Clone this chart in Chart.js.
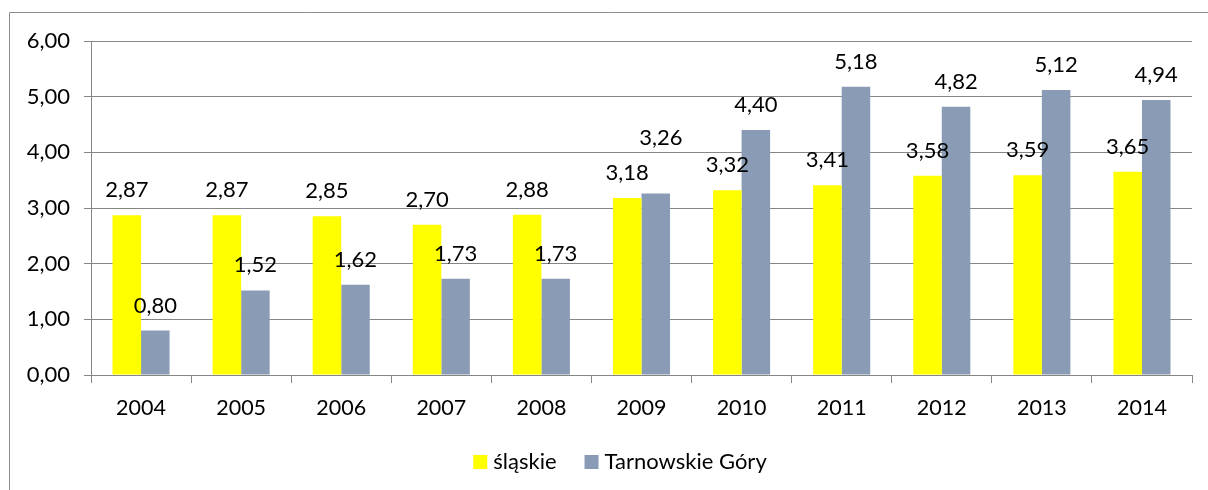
<!DOCTYPE html>
<html>
<head>
<meta charset="utf-8">
<script src="https://cdn.jsdelivr.net/npm/chart.js@4/dist/chart.umd.min.js"></script>
<style>
  html, body { margin: 0; padding: 0; background: #fff; }
  #wrap { width: 1208px; height: 490px; position: relative; }
</style>
</head>
<body>
<div id="wrap"><canvas id="chart" width="1208" height="490"></canvas></div>
<script>
const years = ['2004', '2005', '2006', '2007', '2008', '2009', '2010', '2011', '2012', '2013', '2014'];
const slaskie = [2.87, 2.87, 2.85, 2.70, 2.88, 3.18, 3.32, 3.41, 3.58, 3.59, 3.65];
const tarnowskie = [0.80, 1.52, 1.62, 1.73, 1.73, 3.26, 4.40, 5.18, 4.82, 5.12, 4.94];
const yTicks = [0, 1, 2, 3, 4, 5, 6];

const fmt = v => v.toFixed(2).replace('.', ',');
const gridCol = '#868686';
const font = 'Lato, "Open Sans", sans-serif';

// frame around the chart (only left/top edge visible in the picture)
const framePlugin = {
  id: 'frame',
  beforeDraw(chart) {
    const c = chart.ctx;
    c.save();
    c.strokeStyle = '#8c8c8c';
    c.lineWidth = 1;
    c.beginPath();
    c.moveTo(9.5, 500);
    c.lineTo(9.5, 12.5);
    c.lineTo(1220, 12.5);
    c.stroke();
    c.restore();
  }
};

// value labels above the bars
// the 2009 Tarnowskie label was moved up by hand in the original to avoid 3,18
const nudge = { '1-5': [5, -31] };
const labelPlugin = {
  id: 'valueLabels',
  afterDatasetsDraw(chart) {
    const c = chart.ctx;
    c.save();
    c.font = '22px ' + font;
    c.fillStyle = '#000';
    c.textAlign = 'center';
    c.textBaseline = 'middle';
    chart.data.datasets.forEach((ds, i) => {
      chart.getDatasetMeta(i).data.forEach((bar, j) => {
        const n = nudge[i + '-' + j] || [0, 0];
        c.fillText(fmt(ds.data[j]), bar.x + n[0], bar.y - 25 + n[1]);
      });
    });
    c.restore();
  }
};

// legend drawn by hand so it can sit where the original has it
const legendPlugin = {
  id: 'customLegend',
  afterDraw(chart) {
    const c = chart.ctx;
    c.save();
    c.font = '22px ' + font;
    c.textBaseline = 'middle';
    c.textAlign = 'left';
    const box = 14, gap = 6, itemGap = 28, cy = 462;
    const items = chart.data.datasets.map(ds => ({ text: ds.label, color: ds.backgroundColor, w: c.measureText(ds.label).width }));
    const total = items.reduce((s, it) => s + box + gap + it.w, 0) + itemGap * (items.length - 1);
    let x = 620 - total / 2;
    items.forEach(it => {
      c.fillStyle = it.color;
      c.fillRect(x, cy - box / 2, box, box);
      c.fillStyle = '#000';
      c.fillText(it.text, x + box + gap, cy);
      x += box + gap + it.w + itemGap;
    });
    c.restore();
  }
};

new Chart(document.getElementById('chart'), {
  type: 'bar',
  data: {
    labels: years,
    datasets: [
      { label: 'śląskie', data: slaskie, backgroundColor: '#ffff00', categoryPercentage: 0.57, barPercentage: 1.0 },
      { label: 'Tarnowskie Góry', data: tarnowskie, backgroundColor: '#8a9cb5', categoryPercentage: 0.57, barPercentage: 1.0 }
    ]
  },
  options: {
    responsive: false,
    animation: false,
    layout: { padding: { left: 0, right: 16, top: 41, bottom: 68 } },
    plugins: {
      tooltip: { enabled: false },
      legend: { display: false }
    },
    scales: {
      x: {
        grid: { drawOnChartArea: false, tickLength: 8, color: gridCol, offset: true },
        border: { color: gridCol },
        ticks: { color: '#000', padding: 12, font: { family: font, size: 21.5 } },
        afterFit(s) { s.height = 47; }
      },
      y: {
        min: 0, max: 6,
        afterBuildTicks(s) { s.ticks = yTicks.map(v => ({ value: v })); },
        grid: { color: gridCol, tickLength: 7 },
        border: { color: gridCol },
        ticks: { color: '#000', padding: 14, font: { family: font, size: 22 }, callback: v => fmt(v) },
        afterFit(s) { s.width = 91; }
      }
    }
  },
  plugins: [framePlugin, labelPlugin, legendPlugin]
});
</script>
</body>
</html>
